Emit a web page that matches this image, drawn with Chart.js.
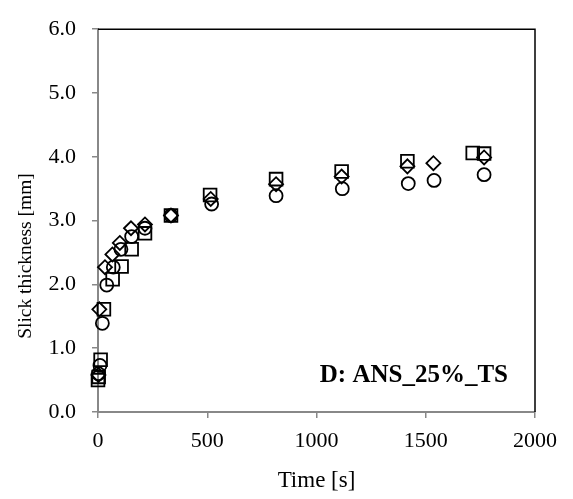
<!DOCTYPE html>
<html>
<head>
<meta charset="utf-8">
<script src="https://cdn.jsdelivr.net/npm/chart.js@4.4.1/dist/chart.umd.min.js"></script>
<style>
html,body{margin:0;padding:0;background:#fff;}
#wrap{width:573px;height:499px;position:relative;}
</style>
</head>
<body>
<div id="wrap"><canvas id="c" width="573" height="499"></canvas></div>
<script>
// Series A (squares)
const timeSquares = [0, 3, 12, 27, 67, 108, 154, 215, 334, 513, 815, 1115, 1416, 1715, 1767];
const thickSquares = [0.50, 0.55, 0.82, 1.61, 2.08, 2.28, 2.55, 2.80, 3.08, 3.40, 3.65, 3.77, 3.93, 4.06, 4.05];
// Series B (diamonds)
const timeDiamonds = [2, 6, 32, 66, 100, 151, 215, 334, 516, 815, 1115, 1416, 1535, 1767];
const thickDiamonds = [0.58, 1.61, 2.27, 2.47, 2.65, 2.88, 2.94, 3.08, 3.34, 3.57, 3.69, 3.85, 3.90, 3.99];
// Series C (circles)
const timeCircles = [2, 9, 20, 40, 70, 105, 154, 215, 334, 520, 815, 1118, 1420, 1538, 1767];
const thickCircles = [0.60, 0.73, 1.39, 1.99, 2.27, 2.55, 2.75, 2.88, 3.08, 3.26, 3.39, 3.50, 3.58, 3.63, 3.72];

const xTicks = [0, 500, 1000, 1500, 2000];
const yTicks = [0, 1, 2, 3, 4, 5, 6];
const xTitle = 'Time [s]';
const yTitle = 'Slick thickness [mm]';
const panelLabel = 'D: ANS_25%_TS';

const FONT = 'Liberation Serif, Times New Roman, serif';
const pts = (xs, ys) => xs.map((x, i) => ({x: x, y: ys[i]}));

const mk = (label, data, style, r) => ({
  label: label, data: data, showLine: false, clip: false,
  pointStyle: style, pointRadius: r, pointHoverRadius: r,
  pointBorderWidth: 1.8, borderColor: '#000', backgroundColor: 'rgba(0,0,0,0)'
});

const extras = {
  id: 'extras',
  afterDraw(chart) {
    const ctx = chart.ctx, a = chart.chartArea;
    ctx.save();
    ctx.strokeStyle = '#000';
    ctx.lineWidth = 1.5;
    ctx.beginPath();
    ctx.moveTo(a.left, a.top); ctx.lineTo(a.right, a.top); ctx.lineTo(a.right, a.bottom);
    ctx.stroke();
    // y title
    ctx.fillStyle = '#000';
    ctx.font = '19.5px ' + FONT;
    ctx.textAlign = 'center';
    ctx.textBaseline = 'middle';
    ctx.translate(26, 256);
    ctx.rotate(-Math.PI / 2);
    ctx.fillText(yTitle, 0, 0);
    ctx.restore();
    // panel label
    ctx.save();
    ctx.fillStyle = '#000';
    ctx.font = 'bold 25px ' + FONT;
    ctx.textAlign = 'right';
    ctx.textBaseline = 'alphabetic';
    ctx.fillText(panelLabel, a.right - 27, a.bottom - 30);
    ctx.restore();
  }
};

new Chart(document.getElementById('c'), {
  type: 'scatter',
  data: {
    datasets: [
      mk('squares', pts(timeSquares, thickSquares), 'rect', 9),
      mk('diamonds', pts(timeDiamonds, thickDiamonds), 'rectRot', 7),
      mk('circles', pts(timeCircles, thickCircles), 'circle', 6.5)
    ]
  },
  options: {
    responsive: false, animation: false,
    layout: {padding: {top: 19, right: 38, left: 0, bottom: 0}},
    plugins: {legend: {display: false}, tooltip: {enabled: false}},
    scales: {
      x: {
        type: 'linear', min: 0, max: 2000,
        afterBuildTicks: s => { s.ticks = xTicks.map(v => ({value: v})); },
        afterFit: s => { s.height = 87; },
        grid: {drawOnChartArea: false, drawTicks: true, tickLength: 6, color: '#888', lineWidth: 1.5},
        border: {color: '#888', width: 2},
        ticks: {color: '#000', font: {family: FONT, size: 22}, padding: 10, maxRotation: 0, callback: v => String(v)},
        title: {display: true, text: xTitle, color: '#000', font: {family: FONT, size: 23}, padding: {top: 8}}
      },
      y: {
        type: 'linear', min: 0, max: 6,
        afterBuildTicks: s => { s.ticks = yTicks.map(v => ({value: v})); },
        afterFit: s => { s.width = 98; },
        grid: {drawOnChartArea: false, drawTicks: true, tickLength: 6, color: '#888', lineWidth: 1.5},
        border: {color: '#888', width: 2},
        ticks: {color: '#000', font: {family: FONT, size: 22}, padding: 16, callback: v => v.toFixed(1)}
      }
    }
  },
  plugins: [extras]
});
</script>
</body>
</html>
